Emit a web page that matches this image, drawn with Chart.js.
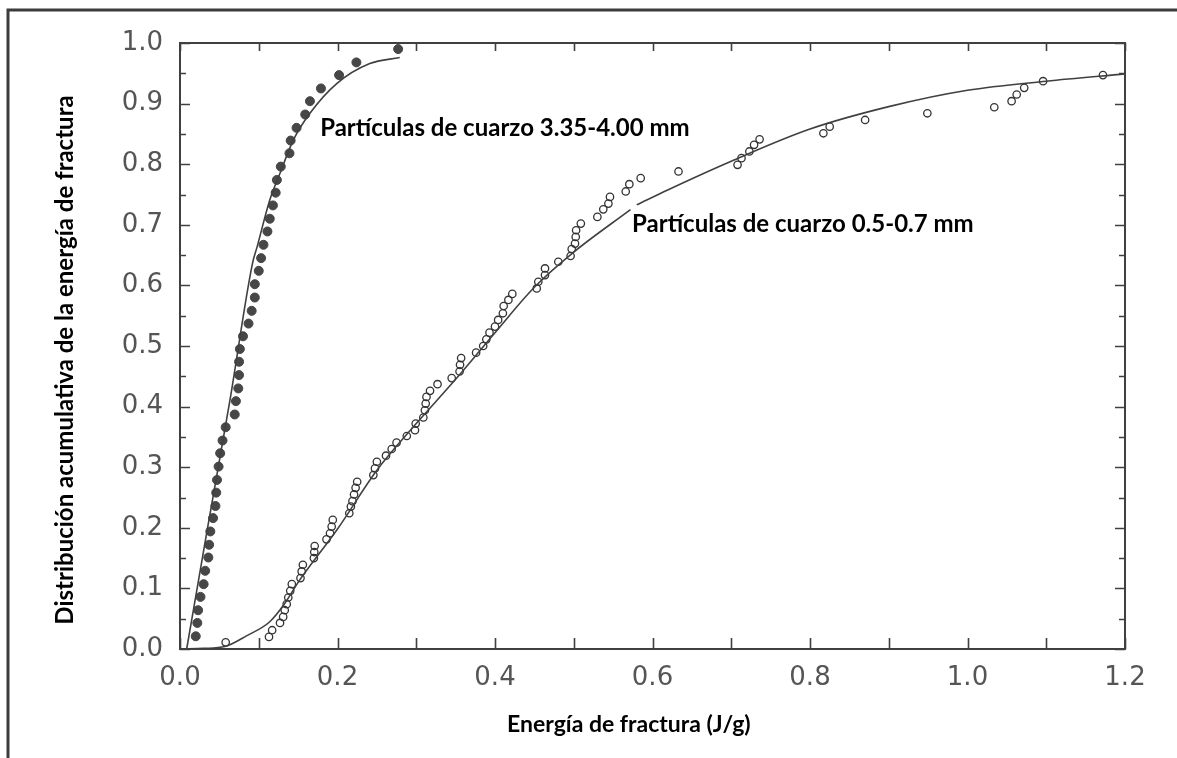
<!DOCTYPE html>
<html><head><meta charset="utf-8">
<script src="https://cdn.jsdelivr.net/npm/chart.js@4"></script>
<style>html,body{margin:0;padding:0;background:#fff;overflow:hidden}#wrap{width:1177px;height:758px;position:relative}</style>
</head><body><div id="wrap"><canvas id="c" width="1177" height="758"></canvas></div>
<script>
// ---- data ----
const xTickLabels = ['0.0','0.2','0.4','0.6','0.8','1.0','1.2'];
const yTickLabels = ['0.0','0.1','0.2','0.3','0.4','0.5','0.6','0.7','0.8','0.9','1.0'];

const coarseX = [0.020,0.022,0.023,0.026,0.030,0.032,0.036,0.037,0.0385,0.042,0.045,0.046,0.047,0.049,0.051,0.054,0.058,0.0695,0.071,0.074,0.075,0.075,0.076,0.080,0.087,0.091,0.095,0.095,0.100,0.103,0.106,0.111,0.114,0.118,0.1215,0.123,0.128,0.139,0.1405,0.148,0.159,0.165,0.179,0.202,0.224,0.277];
const coarseY = [0.021,0.043,0.064,0.086,0.107,0.129,0.151,0.172,0.194,0.216,0.236,0.258,0.279,0.301,0.323,0.344,0.366,0.387,0.409,0.430,0.452,0.474,0.495,0.516,0.537,0.558,0.580,0.602,0.624,0.645,0.667,0.689,0.710,0.732,0.753,0.774,0.796,0.818,0.839,0.860,0.882,0.904,0.925,0.947,0.968,0.990];

const fineX = [0.058,0.113,0.117,0.127,0.131,0.133,0.1355,0.1375,0.140,0.142,0.153,0.1545,0.156,0.170,0.1705,0.171,0.186,0.1905,0.1926,0.194,0.215,0.217,0.219,0.221,0.223,0.225,0.2455,0.2476,0.250,0.2616,0.2688,0.275,0.288,0.2984,0.2993,0.309,0.311,0.312,0.313,0.3175,0.327,0.345,0.355,0.3556,0.357,0.376,0.385,0.389,0.393,0.400,0.404,0.410,0.411,0.417,0.422,0.453,0.455,0.4635,0.4635,0.4804,0.496,0.4974,0.5016,0.5025,0.503,0.509,0.530,0.5375,0.544,0.546,0.566,0.5706,0.585,0.633,0.708,0.713,0.723,0.729,0.736,0.817,0.825,0.870,0.949,1.034,1.056,1.0625,1.072,1.096,1.172];
const fineY = [0.011,0.020,0.031,0.043,0.053,0.064,0.074,0.085,0.096,0.107,0.117,0.128,0.139,0.150,0.160,0.170,0.181,0.191,0.202,0.213,0.224,0.235,0.244,0.255,0.266,0.276,0.287,0.298,0.309,0.319,0.330,0.3405,0.3515,0.361,0.372,0.382,0.394,0.405,0.416,0.426,0.437,0.447,0.458,0.469,0.480,0.489,0.500,0.511,0.522,0.532,0.543,0.554,0.566,0.576,0.586,0.595,0.606,0.617,0.628,0.639,0.6485,0.660,0.669,0.680,0.691,0.702,0.713,0.7255,0.735,0.746,0.755,0.767,0.777,0.788,0.799,0.810,0.821,0.832,0.841,0.851,0.862,0.873,0.884,0.894,0.904,0.915,0.926,0.937,0.947];

const coarseFitX = [0.0085,0.035,0.0635,0.092,0.098,0.114,0.127,0.144,0.165,0.199,0.241,0.279];
const coarseFitY = [0.0,0.2,0.411,0.636,0.664,0.741,0.785,0.840,0.884,0.933,0.966,0.976];

// null marks the small break in the drawn curve
const fineFitX = [0.0,0.03,0.057,0.085,0.114,0.133,0.150,0.200,0.250,0.300,0.350,0.400,0.450,0.500,0.572,0.575,0.580,0.620,0.700,0.800,0.900,1.000,1.100,1.200];
const fineFitY = [0.0,0.001,0.004,0.022,0.045,0.075,0.110,0.198,0.295,0.372,0.445,0.522,0.597,0.655,0.725,null,0.733,0.758,0.805,0.858,0.895,0.922,0.937,0.949];

const label1 = 'Partículas de cuarzo 3.35-4.00 mm';
const label2 = 'Partículas de cuarzo 0.5-0.7 mm';
const xTitle = 'Energía de fractura (J/g)';
const yTitle = 'Distribución acumulativa de la energía de fractura';

const pts = (xs, ys) => xs.map((x, i) => ({x, y: ys[i]}));

const INK = '#404040';
const tickFont = {family: 'DejaVu Sans', size: 26};

const decor = {
  id: 'decor',
  beforeDraw(chart) {
    const ctx = chart.ctx;
    ctx.save();
    ctx.fillStyle = '#fff';
    ctx.fillRect(0, 0, chart.width, chart.height);
    ctx.strokeStyle = '#3c3c3c';
    ctx.lineWidth = 3;
    ctx.beginPath();
    ctx.moveTo(8, chart.height);
    ctx.lineTo(8, 10);
    ctx.lineTo(chart.width, 10);
    ctx.stroke();
    ctx.restore();
  },
  afterDatasetsDraw(chart) {
    const ctx = chart.ctx, xs = chart.scales.x, ys = chart.scales.y;
    const a = chart.chartArea;
    ctx.save();
    ctx.fillStyle = '#000';
    ctx.font = 'bold 24px Lato';
    ctx.textAlign = 'left';
    ctx.textBaseline = 'middle';
    ctx.fillText(label1, xs.getPixelForValue(0.178), ys.getPixelForValue(0.86));
    ctx.fillText(label2, xs.getPixelForValue(0.574), ys.getPixelForValue(0.701));
    // axis titles
    ctx.font = 'bold 23px Lato';
    ctx.fillText(xTitle, 507, 725);
    ctx.save();
    ctx.translate(65, 360);
    ctx.rotate(-Math.PI / 2);
    ctx.font = 'bold 24px Lato';
    ctx.textAlign = 'center';
    ctx.fillText(yTitle, 0, 0);
    ctx.restore();
    // border
    ctx.strokeStyle = INK;
    ctx.lineWidth = 2;
    ctx.strokeRect(a.left, a.top, a.right - a.left, a.bottom - a.top);
    // inward ticks
    ctx.lineWidth = 1.6;
    ctx.beginPath();
    for (let i = 0; i <= 12; i++) {
      const px = Math.round(xs.getPixelForValue(i / 10)) + 0.5;
      ctx.moveTo(px, a.bottom); ctx.lineTo(px, a.bottom - 11);
      ctx.moveTo(px, a.top); ctx.lineTo(px, a.top + 8);
    }
    for (let i = 0; i <= 20; i++) {
      const py = Math.round(ys.getPixelForValue(i / 20)) + 0.5;
      const len = i % 2 === 0 ? 10 : 6;
      ctx.moveTo(a.left, py); ctx.lineTo(a.left + len, py);
      ctx.moveTo(a.right, py); ctx.lineTo(a.right - len, py);
    }
    ctx.stroke();
    ctx.restore();
  }
};

new Chart(document.getElementById('c'), {
  type: 'scatter',
  data: {
    datasets: [
      {label: 'fit coarse', type: 'line', data: pts(coarseFitX, coarseFitY), borderColor: INK, borderWidth: 1.6, pointRadius: 0, cubicInterpolationMode: 'monotone', fill: false},
      {label: 'fit fine', type: 'line', data: pts(fineFitX, fineFitY), borderColor: INK, borderWidth: 1.6, pointRadius: 0, cubicInterpolationMode: 'monotone', spanGaps: false, fill: false},
      {label: 'coarse', data: pts(coarseX, coarseY), pointRadius: 4.5, pointBackgroundColor: '#474747', pointBorderColor: '#474747', pointBorderWidth: 1},
      {label: 'fine', data: pts(fineX, fineY), pointRadius: 3.7, pointBackgroundColor: 'rgba(0,0,0,0)', pointBorderColor: '#333', pointBorderWidth: 1.3}
    ]
  },
  options: {
    responsive: false,
    animation: false,
    devicePixelRatio: 1,
    layout: {padding: {left: 0, right: 52, top: 43, bottom: 0}},
    plugins: {legend: {display: false}, tooltip: {enabled: false}},
    scales: {
      x: {
        type: 'linear', min: 0, max: 1.2,
        grid: {display: false, drawTicks: false},
        border: {display: false},
        ticks: {stepSize: 0.1, padding: 14, color: '#555', font: tickFont,
          callback: v => { const i = Math.round(v * 10); return i % 2 === 0 ? xTickLabels[i / 2] : ''; }},
        title: {display: false},
        afterFit: s => { s.height = 109; }
      },
      y: {
        type: 'linear', min: 0, max: 1,
        grid: {display: false, drawTicks: false},
        border: {display: false},
        ticks: {stepSize: 0.1, padding: 17, color: '#555', font: tickFont,
          callback: v => yTickLabels[Math.round(v * 10)]},
        title: {display: false},
        afterFit: s => { s.width = 180; }
      }
    }
  },
  plugins: [decor]
});
</script>
</body></html>
